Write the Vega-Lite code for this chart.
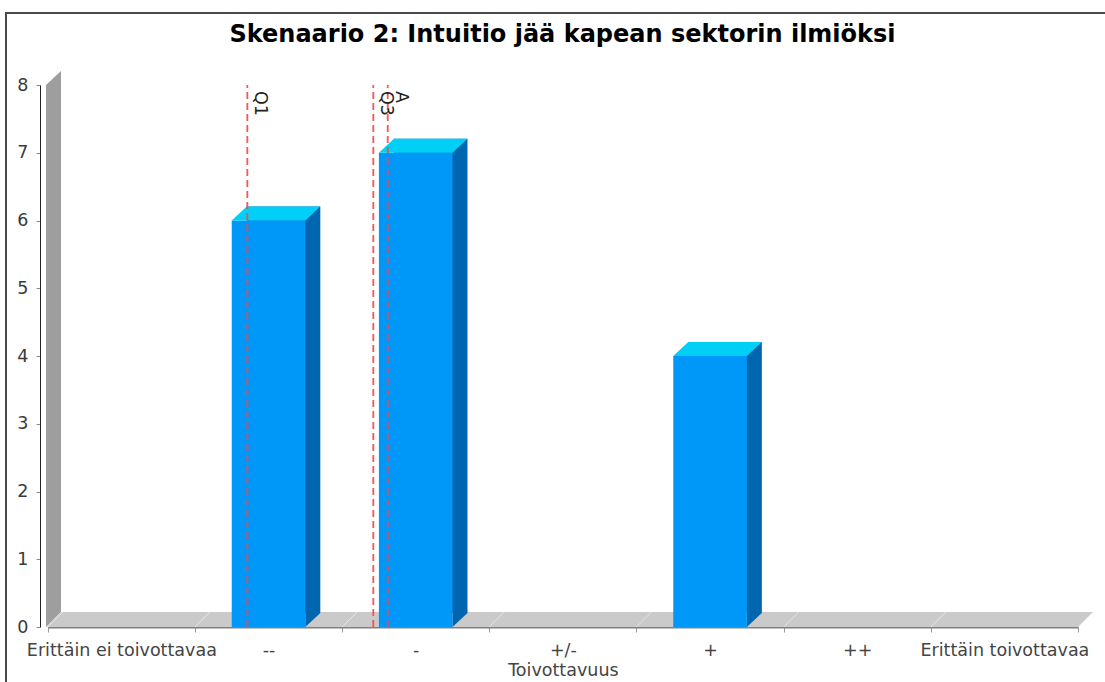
{
  "$schema": "https://vega.github.io/schema/vega-lite/v6.json",
  "width": 1101,
  "height": 671,
  "autosize": {"type": "none"},
  "padding": {"left": 6, "top": 13, "right": -2, "bottom": -2},
  "background": "white",
  "config": {"view": {"stroke": "#4a4a4a", "strokeWidth": 2}, "font": "DejaVu Sans"},
  "title": {
    "text": "Skenaario 2: Intuitio jää kapean sektorin ilmiöksi",
    "font": "DejaVu Sans",
    "fontSize": 24,
    "fontWeight": "bold",
    "color": "#000000",
    "anchor": "middle",
    "frame": "group",
    "baseline": "alphabetic",
    "offset": -29,
    "dy": 24,
    "dx": 6
  },
  "datasets": {
    "bars": [
      {"cat": "Erittäin ei toivottavaa", "value": 0},
      {"cat": "--", "value": 6},
      {"cat": "-", "value": 7},
      {"cat": "+/-", "value": 0},
      {"cat": "+", "value": 4},
      {"cat": "++", "value": 0},
      {"cat": "Erittäin toivottavaa", "value": 0}
    ],
    "markers": [
      {"label": "Q1", "pos": 1.356},
      {"label": "Q3", "pos": 2.212},
      {"label": "A", "pos": 2.31}
    ],
    "frame": [{"part": "wall"}, {"part": "floor"}]
  },
  "layer": [
    {
      "data": {"name": "frame"},
      "mark": {"type": "point", "filled": true, "opacity": 1, "size": 4, "strokeWidth": 0},
      "encoding": {
        "x": {"datum": 0, "type": "quantitative", "scale": {"domain": [0, 7], "range": [41.75, 1072], "nice": false, "zero": false}, "axis": null},
        "y": {"datum": 0, "type": "quantitative", "scale": {"domain": [0, 8], "range": [614, 72], "nice": false}},
        "shape": {"field": "part", "type": "nominal", "scale": {"domain": ["wall", "floor"], "range": ["M -1.75 0 L -1.75 -542 L 13.25 -556 L 13.25 -15 Z", "M -1.75 0 L 13.25 -15 L 1045.25 -15 L 1030.25 0 Z"]}, "legend": null},
        "color": {"field": "part", "type": "nominal", "scale": {"domain": ["wall", "floor"], "range": ["#9e9e9e", "#cacaca"]}, "legend": null}
      }
    },
    {
      "data": {"name": "bars"},
      "layer": [
        {
          "mark": {"type": "point", "filled": false, "opacity": 1, "size": 4, "shape": "M 0 0 L 15 -15", "stroke": "#e6e6e6", "strokeWidth": 1},
          "encoding": {
            "x": {"field": "cat", "type": "nominal", "bandPosition": 0},
            "y": {"datum": 0, "type": "quantitative"}
          }
        },
        {
          "transform": [{"filter": "datum.value > 0"}],
          "mark": {"type": "bar", "width": {"band": 0.5}, "xOffset": 15, "yOffset": -14, "y2Offset": -14, "color": "#0066b0"},
          "encoding": {
            "x": {"field": "cat", "type": "nominal"},
            "y": {"field": "value", "type": "quantitative"}
          }
        },
        {
          "transform": [{"filter": "datum.value > 0"}],
          "mark": {"type": "point", "filled": true, "opacity": 1, "size": 4, "strokeWidth": 0, "shape": "M 36.8 0 L 51.8 -14 L 36.8 -14 Z", "color": "#0066b0"},
          "encoding": {
            "x": {"field": "cat", "type": "nominal"},
            "y": {"datum": 0, "type": "quantitative"}
          }
        },
        {
          "mark": {"type": "bar", "width": {"band": 0.5}, "color": "#0098f8"},
          "encoding": {
            "x": {
              "field": "cat",
              "type": "nominal",
              "sort": null,
              "scale": {"domain": ["Erittäin ei toivottavaa", "--", "-", "+/-", "+", "++", "Erittäin toivottavaa"], "range": [41.75, 1072], "paddingInner": 0, "paddingOuter": 0},
              "axis": {
                "orient": "bottom",
                "offset": -57,
                "title": "Toivottavuus",
                "titleFont": "DejaVu Sans",
                "titleFontSize": 17.5,
                "titleFontWeight": "normal",
                "titleColor": "#444444",
                "titlePadding": 3,
                "labelFont": "DejaVu Sans",
                "labelFontSize": 17.5,
                "labelColor": "#444444",
                "labelAngle": 0,
                "labelAlign": "center",
                "labelBaseline": "top",
                "labelPadding": 9,
                "labelOverlap": false,
                "labelBound": false,
                "labelFlush": false,
                "labelLimit": 400,
                "tickBand": "extent",
                "tickSize": 5,
                "tickColor": "#999999",
                "domainColor": "#808080",
                "domainWidth": 2,
                "grid": false
              }
            },
            "y": {
              "field": "value",
              "type": "quantitative",
              "scale": {"domain": [0, 8], "range": [614, 72], "nice": false},
              "axis": {
                "values": [0, 1, 2, 3, 4, 5, 6, 7, 8],
                "format": "d",
                "title": null,
                "grid": false,
                "offset": -34,
                "domainColor": "#222222",
                "domainWidth": 1,
                "tickSize": 4,
                "tickColor": "#888888",
                "labelFont": "DejaVu Sans",
                "labelFontSize": 17.5,
                "labelColor": "#3a3a3a",
                "labelPadding": 8
              }
            }
          }
        },
        {
          "transform": [{"filter": "datum.value > 0"}],
          "mark": {"type": "point", "filled": true, "opacity": 1, "size": 4, "strokeWidth": 0, "shape": "M -36.8 0 L 36.8 0 L 51.8 -14 L -21.8 -14 Z", "color": "#00d0f8"},
          "encoding": {
            "x": {"field": "cat", "type": "nominal"},
            "y": {"field": "value", "type": "quantitative"}
          }
        }
      ]
    },
    {
      "data": {"name": "markers"},
      "layer": [
        {
          "mark": {"type": "rule", "color": "#ff4040", "strokeWidth": 1.8, "strokeDash": [7, 4], "opacity": 0.9},
          "encoding": {
            "x": {"field": "pos", "type": "quantitative", "scale": {"domain": [0, 7], "range": [41.75, 1072], "nice": false, "zero": false}, "axis": null},
            "y": {"datum": 0, "type": "quantitative"},
            "y2": {"datum": 8}
          }
        },
        {
          "mark": {"type": "text", "angle": 90, "align": "left", "baseline": "alphabetic", "xOffset": 8, "yOffset": 6, "font": "DejaVu Sans", "fontSize": 17.5, "color": "#222222"},
          "encoding": {
            "x": {"field": "pos", "type": "quantitative"},
            "y": {"datum": 8, "type": "quantitative"},
            "text": {"field": "label"}
          }
        }
      ]
    }
  ],
  "resolve": {"scale": {"x": "independent"}, "axis": {"x": "independent"}}
}
